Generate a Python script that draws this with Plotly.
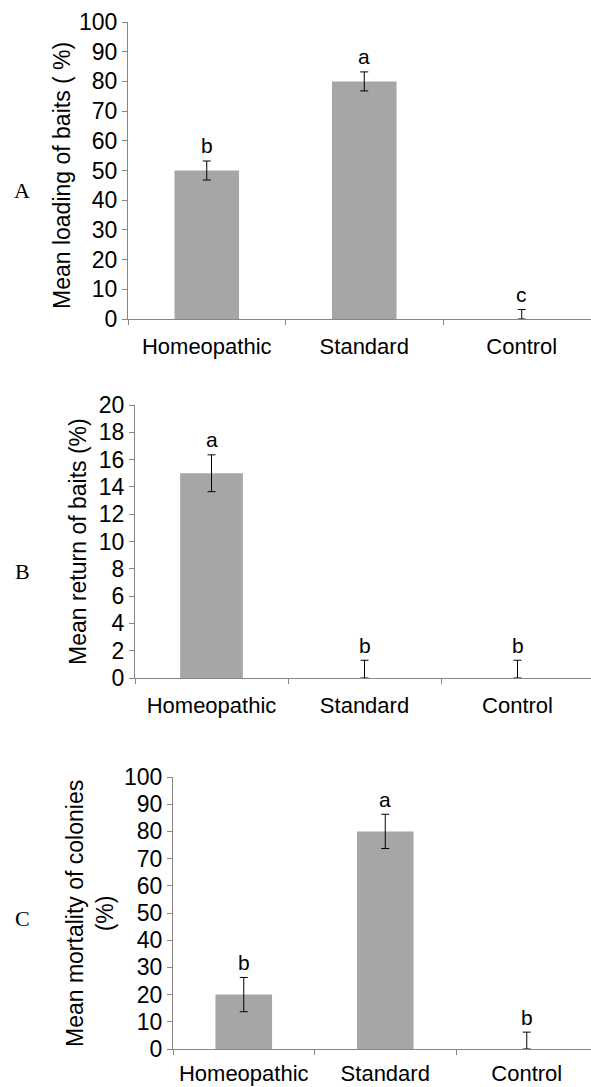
import plotly.graph_objects as go

W, H = 591, 1087

categories = ["Homeopathic", "Standard", "Control"]

# Panel A: mean loading of baits (%)
loading_vals = [50, 80, 0]
loading_err = [3.2, 3.2, 3.2]
loading_letters = ["b", "a", "c"]

# Panel B: mean return of baits (%)
return_vals = [15.0, 0, 0]
return_err = [1.35, 1.3, 1.3]
return_letters = ["a", "b", "b"]

# Panel C: mean mortality of colonies (%)
mortality_vals = [20, 80, 0]
mortality_err = [6.3, 6.3, 6.2]
mortality_letters = ["b", "a", "b"]

yticks_A = [0, 10, 20, 30, 40, 50, 60, 70, 80, 90, 100]
yticks_B = [0, 2, 4, 6, 8, 10, 12, 14, 16, 18, 20]
yticks_C = [0, 10, 20, 30, 40, 50, 60, 70, 80, 90, 100]


def fx(px):
    return px / W


def fy(py):
    return 1 - py / H


BAR = "#a6a6a6"
AX = "#878787"
FONT = "Liberation Sans"

panels = [
    # (vals, err, letters, ticks, axis_x_px, y0_px, ytop_px, cat_px, barwidth, standoff, suffix)
    (loading_vals, loading_err, loading_letters, yticks_A, 128, 319, 22, 157.5, 0.41, 8, ""),
    (return_vals, return_err, return_letters, yticks_B, 135, 678, 405, 153.0, 0.41, 8, "2"),
    (mortality_vals, mortality_err, mortality_letters, yticks_C, 173, 1049, 777, 141.5, 0.40, 5, "3"),
]

fig = go.Figure()
layout = dict(
    width=W, height=H,
    margin=dict(l=0, r=0, t=0, b=0),
    paper_bgcolor="white", plot_bgcolor="white",
    showlegend=False,
    template="none",
    font=dict(family=FONT, color="black"),
)
annotations = []

for vals, err, letters, ticks, axx, y0, ytop, catw, bw, so, s in panels:
    minus = [min(e, v) for e, v in zip(err, vals)]
    fig.add_trace(go.Bar(
        x=categories, y=vals, width=bw,
        marker=dict(color=BAR, line=dict(width=0)),
        error_y=dict(type="data", array=err, arrayminus=minus,
                     color="black", thickness=1, width=4),
        xaxis="x" + s, yaxis="y" + s,
    ))
    xr = [-0.5, -0.5 + (W - axx) / catw]
    layout["xaxis" + s] = dict(
        domain=[fx(axx), 1], range=xr, type="category",
        anchor="y" + s, showline=True, linecolor=AX, linewidth=1,
        ticks="outside", tickson="boundaries", ticklen=5, tickcolor=AX,
        ticklabelstandoff=so,
        tickfont=dict(family=FONT, size=22, color="black"),
        showgrid=False, zeroline=False, automargin=False, fixedrange=True,
    )
    layout["yaxis" + s] = dict(
        domain=[fy(y0), fy(ytop)], range=[ticks[0], ticks[-1]],
        anchor="x" + s, showline=True, linecolor=AX, linewidth=1,
        ticks="outside", ticklen=5, tickcolor=AX,
        tickvals=ticks, ticktext=[str(t) for t in ticks],
        tickfont=dict(family=FONT, size=23, color="black"),
        showgrid=False, zeroline=False, automargin=False, fixedrange=True,
    )
    for c, v, e, l in zip(categories, vals, err, letters):
        annotations.append(dict(
            x=c, y=v + e, xref="x" + s, yref="y" + s, text=l, showarrow=False,
            xanchor="center", yanchor="middle", yshift=15,
            font=dict(family=FONT, size=21, color="black"),
        ))

# Axis titles (rotated)
title_font = dict(family=FONT, size=23, color="black")
annotations += [
    dict(x=fx(62), y=fy(176), xref="paper", yref="paper", showarrow=False,
         xanchor="center", yanchor="middle",
         text="Mean loading of baits ( %)", textangle=-90, font=title_font),
    dict(x=fx(78), y=fy(542), xref="paper", yref="paper", showarrow=False,
         xanchor="center", yanchor="middle",
         text="Mean return of baits (%)", textangle=-90, font=title_font),
    dict(x=fx(90), y=fy(914), xref="paper", yref="paper", showarrow=False,
         xanchor="center", yanchor="middle",
         text="Mean mortality of colonies<br>(%)", textangle=-90, font=title_font),
]

# Panel letters
for letter, py in [("A", 190), ("B", 571), ("C", 918)]:
    annotations.append(dict(
        x=fx(22), y=fy(py), xref="paper", yref="paper", showarrow=False,
        xanchor="center", yanchor="middle",
        text=letter, font=dict(family="Liberation Serif", size=22, color="black"),
    ))

layout["annotations"] = annotations
fig.update_layout(**layout)
fig.write_html(
    "out.html",
    config={"displayModeBar": False},
    post_script="document.body.style.margin='0';document.body.style.overflow='hidden';",
)
